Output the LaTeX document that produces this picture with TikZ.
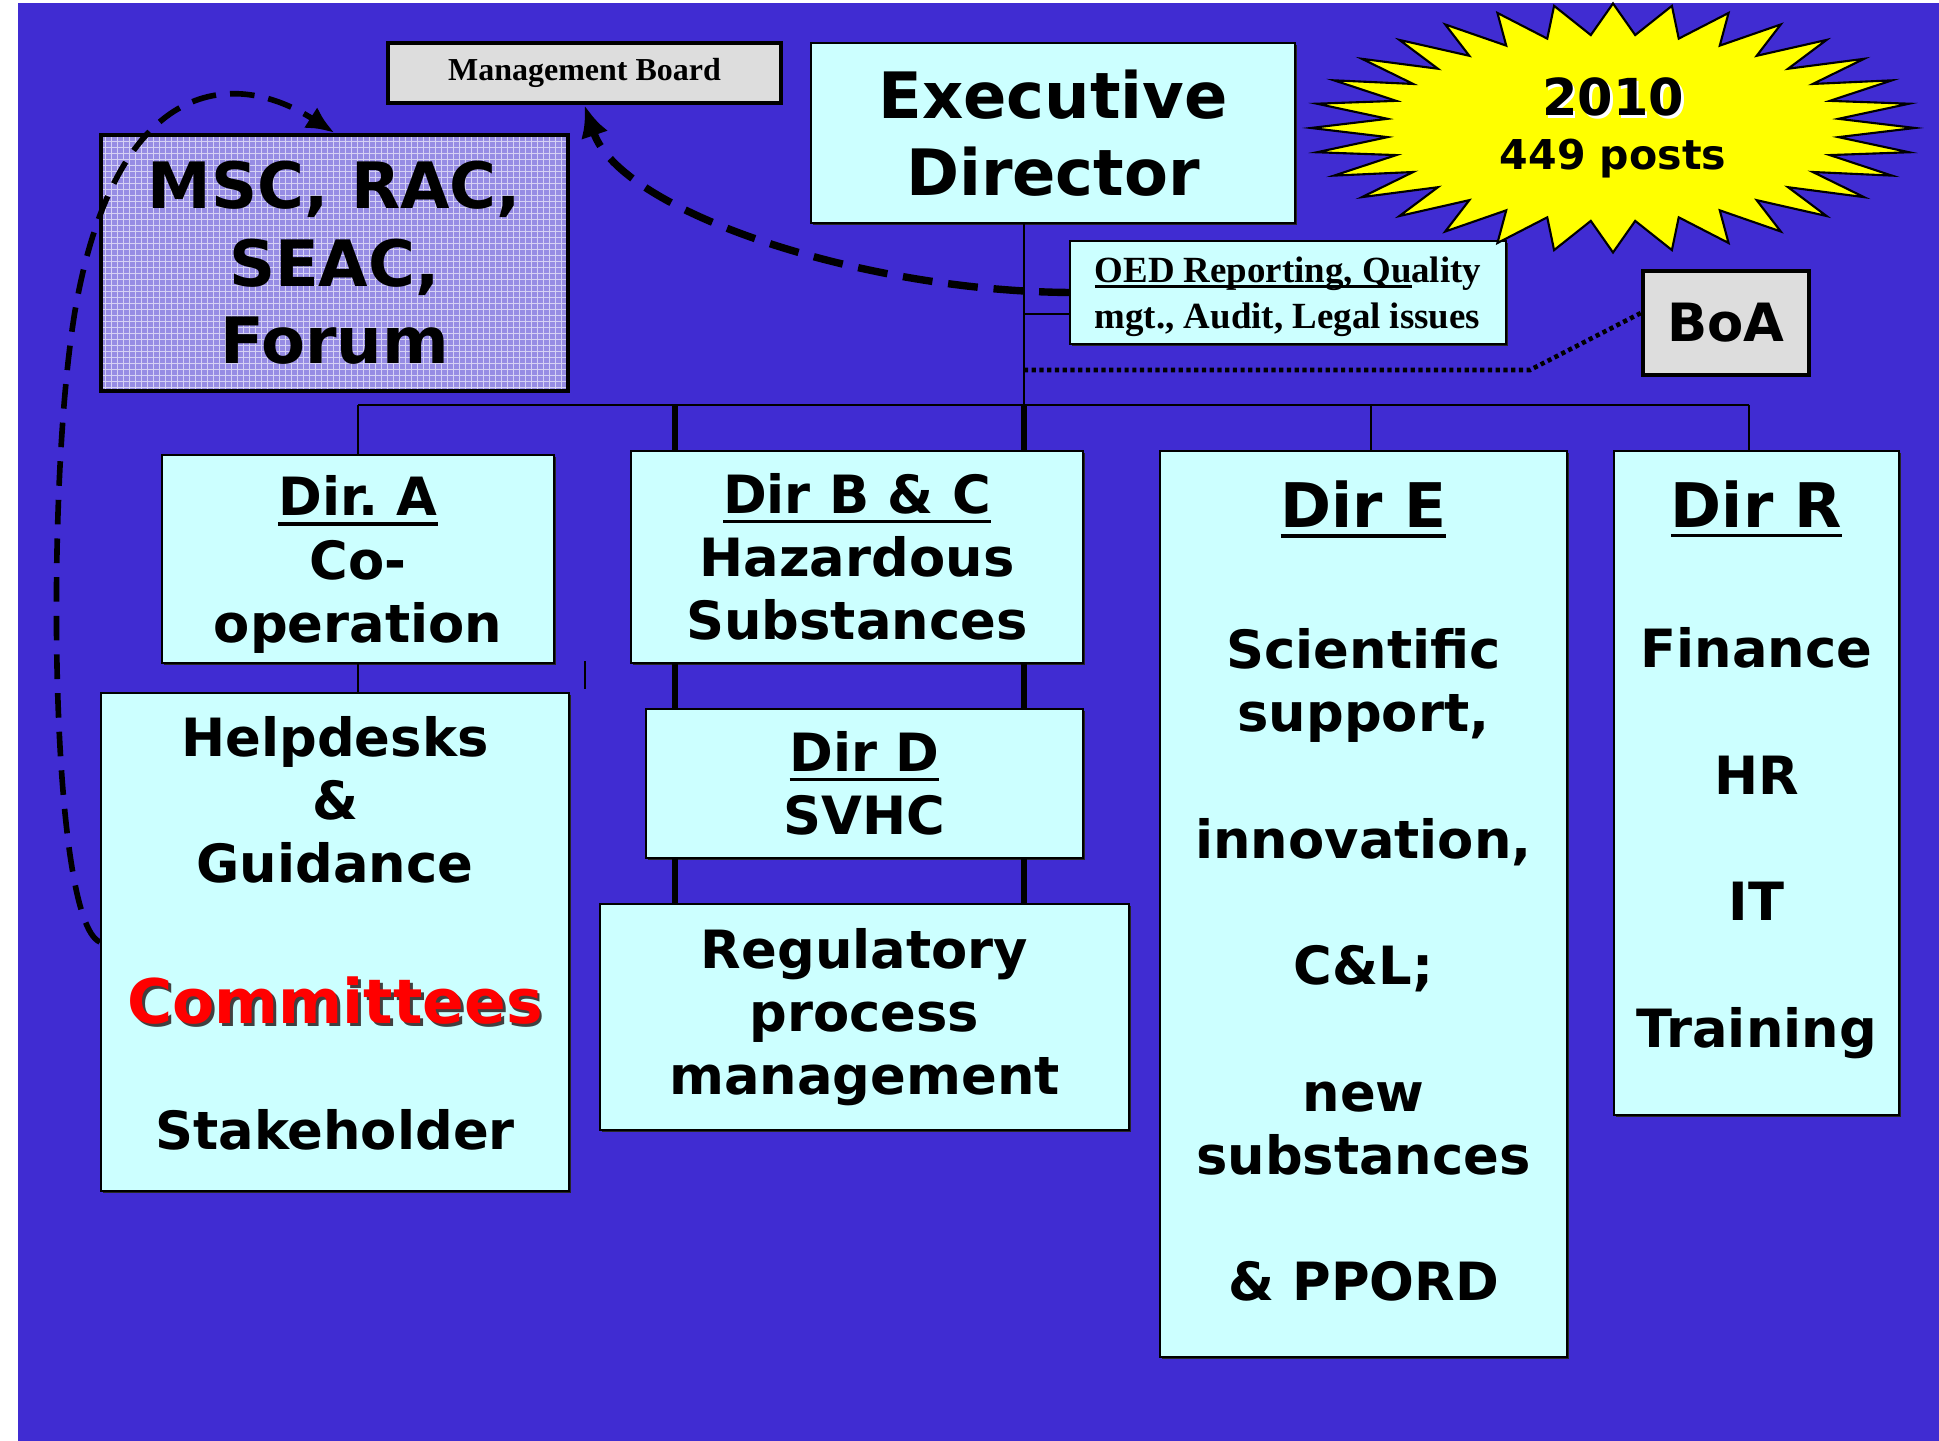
\documentclass[tikz,border=0pt]{standalone}
\usepackage{fontspec}
\setmainfont{DejaVu Sans}
\newfontfamily\boardfont{Liberation Serif}
\definecolor{slideblue}{RGB}{64, 44, 210}
\definecolor{boxcyan}{RGB}{204, 255, 255}
\definecolor{boardgray}{RGB}{221, 221, 221}
\definecolor{forumlav}{RGB}{150, 140, 228}
\definecolor{burstyellow}{RGB}{255, 255, 0}
\definecolor{cmtred}{RGB}{255, 0, 0}
\usetikzlibrary{arrows.meta, calc, shadows}
\newcommand{\dirul}[1]{\setbox0\hbox{#1}\rlap{\rule[-2.8pt]{\wd0}{0.9pt}}\box0}
\newcommand{\oedul}[1]{\setbox0\hbox{#1}\rlap{\rule[-1.6pt]{\wd0}{0.7pt}}\box0}
\newcommand{\txtshadow}[2]{\leavevmode\rlap{\kern0.8pt\raisebox{-0.8pt}{\color{#1}#2}}#2}

\begin{document}
\begin{tikzpicture}[
  dirbox/.style={draw, fill=boxcyan, line width=0.6pt, inner sep=0pt, align=center, font=\bfseries\fontsize{15}{18}\selectfont,
    drop shadow={shadow xshift=0.5pt, shadow yshift=-0.6pt, fill=black!85, opacity=1}},
  greybox/.style={draw, fill=boardgray, line width=1.2pt, inner sep=0pt, align=center},
  link/.style={line width=0.6pt},
  spine/.style={line width=1.5pt},
  boalink/.style={line width=1.3pt, dash pattern=on 1.2pt off 1pt},
  mbarrow/.style={line width=2.1pt, dash pattern=on 8.5pt off 4.5pt, -{Latex[length=9pt, width=8pt]}},
  cmtarrow/.style={line width=1.6pt, dash pattern=on 7pt off 4pt, -{Latex[length=8pt, width=7pt]}}
]
  \useasboundingbox (0,0) rectangle (19.39,14.41);
  \fill[slideblue] (0.18,0) rectangle (19.39,14.38);

  % Top row
  \node[dirbox, minimum width=4.84cm, minimum height=1.80cm, font=\bfseries\fontsize{18.2}{22}\selectfont] (ed) at (10.53,13.08) {Executive\\Director};
  \node[greybox, minimum width=3.93cm, minimum height=0.60cm, font=\boardfont\bfseries\fontsize{9.1}{10}\selectfont] (mb) at (5.845,13.68) {Management Board};
  \node[draw, line width=1.2pt, fill=forumlav, inner sep=0pt, align=center,
    minimum width=4.67cm, minimum height=2.56cm, font=\bfseries\fontsize{18.2}{22}\selectfont,
    path picture={\draw[white, opacity=0.6, line width=0.3pt, step=0.06cm] (path picture bounding box.south west) grid (path picture bounding box.north east);}] (forum) at (3.345,11.78) {MSC, RAC,\\SEAC,\\Forum};
  \node[dirbox, align=left, minimum width=4.36cm, minimum height=1.03cm, text depth=-0.08cm, font=\boardfont\bfseries\fontsize{10.5}{13.2}\selectfont] (oed) at (12.88,11.485) {\oedul{OED Reporting, Qu}ality\\mgt., Audit, Legal issues};
  \node[greybox, minimum width=1.66cm, minimum height=1.04cm, font=\bfseries\fontsize{15}{18}\selectfont] (boa) at (17.26,11.18) {BoA};

  % Starburst
  \coordinate (burst) at (16.13,13.13);
  \draw[fill=burstyellow, line width=0.6pt, shift={(burst)}]
    plot[samples at={0,...,63}] ({(1-0.25*mod(\x,2))*3.02*cos(\x*5.625)}, {(1-0.25*mod(\x,2))*1.245*sin(\x*5.625)}) -- cycle;
  \node[align=center, font=\bfseries\fontsize{11.7}{15.4}\selectfont] (posts) at (burst) {{\fontsize{14.5}{15.4}\selectfont\txtshadow{white}{2010}}\\449 posts};

  % Directorates
  \node[dirbox, minimum width=3.92cm, minimum height=2.08cm, text depth=0pt] (dira) at (3.58,8.82) {\dirul{Dir.\ A}\\Co-\\operation};
  \node[dirbox, minimum width=4.52cm, minimum height=2.12cm] (dirbc) at (8.57,8.84) {\dirul{Dir B \& C}\\Hazardous\\Substances};
  \node[dirbox, minimum width=4.37cm, minimum height=1.49cm] (dird) at (8.645,6.575) {\dirul{Dir D}\\SVHC};
  \node[dirbox, minimum width=5.29cm, minimum height=2.26cm] (reg) at (8.645,4.24) {Regulatory\\process\\management};
  \node[dirbox, minimum width=4.68cm, minimum height=4.98cm, text depth=0.18cm] (help) at (3.35,4.99) {Helpdesks\\\&\\Guidance\\[22pt]{\fontsize{17.5}{18}\selectfont\color{cmtred}\txtshadow{black!75}{Committees}}\\[18pt]Stakeholder};
  \node[dirbox, minimum width=4.07cm, minimum height=9.06cm, text depth=0.26cm] (dire) at (13.635,5.37) {{\fontsize{17.5}{18}\selectfont\dirul{Dir E}}\\[22pt]Scientific\\support,\\[18pt]innovation,\\[18pt]C\&L;\\[18pt]new\\substances\\[18pt]\& PPORD};
  \node[dirbox, minimum width=2.85cm, minimum height=6.64cm, text depth=0.38cm] (dirr) at (17.565,6.58) {{\fontsize{17.5}{18}\selectfont\dirul{Dir R}}\\[22pt]Finance\\[18pt]HR\\[18pt]IT\\[18pt]Training};

  % Tree lines
  \coordinate (hub) at (10.24,10.36);
  \coordinate (spineL) at (6.75,10.36);
  \coordinate (barE) at (13.71,10.36);
  \coordinate (barR) at (17.49,10.36);
  \draw[link] (ed.south -| hub) -- (hub);
  \draw[link] (dira.north |- hub) -- (barR);
  \draw[link] (dira.north |- hub) -- (dira.north);
  \foreach \b/\d in {barE/dire, barR/dirr}
    \draw[link] (\b) -- (\b |- \d.north);
  \draw[link] (dira.south) -- (dira.south |- help.north);
  \foreach \c in {spineL, hub} {
    \draw[spine] (\c) -- (\c |- dirbc.north);
    \draw[spine] (\c |- dirbc.south) -- (\c |- dird.north);
    \draw[spine] (\c |- dird.south) -- (\c |- reg.north);
  }
  \draw[link] (5.85,7.52) -- (5.85,7.80);

  % Staff and board links
  \draw[link] ([yshift=-2.15mm]oed.west) -- ([yshift=-2.15mm]oed.west -| hub);
  \coordinate (dotbend) at (15.30,10.71);
  \draw[boalink] (dotbend -| hub) -- (dotbend) -- ([yshift=0.1cm]boa.west);
  \draw[mbarrow] (oed.west) .. controls (8.6,11.5) and (6.2,12.3) .. (mb.south);
  \draw[cmtarrow] (help.west) .. controls (0.5,5.2) and (0.45,9.5) .. (0.75,11.3)
    .. controls (1.15,13.6) and (2.3,13.75) .. (forum.north);
\end{tikzpicture}
\end{document}
